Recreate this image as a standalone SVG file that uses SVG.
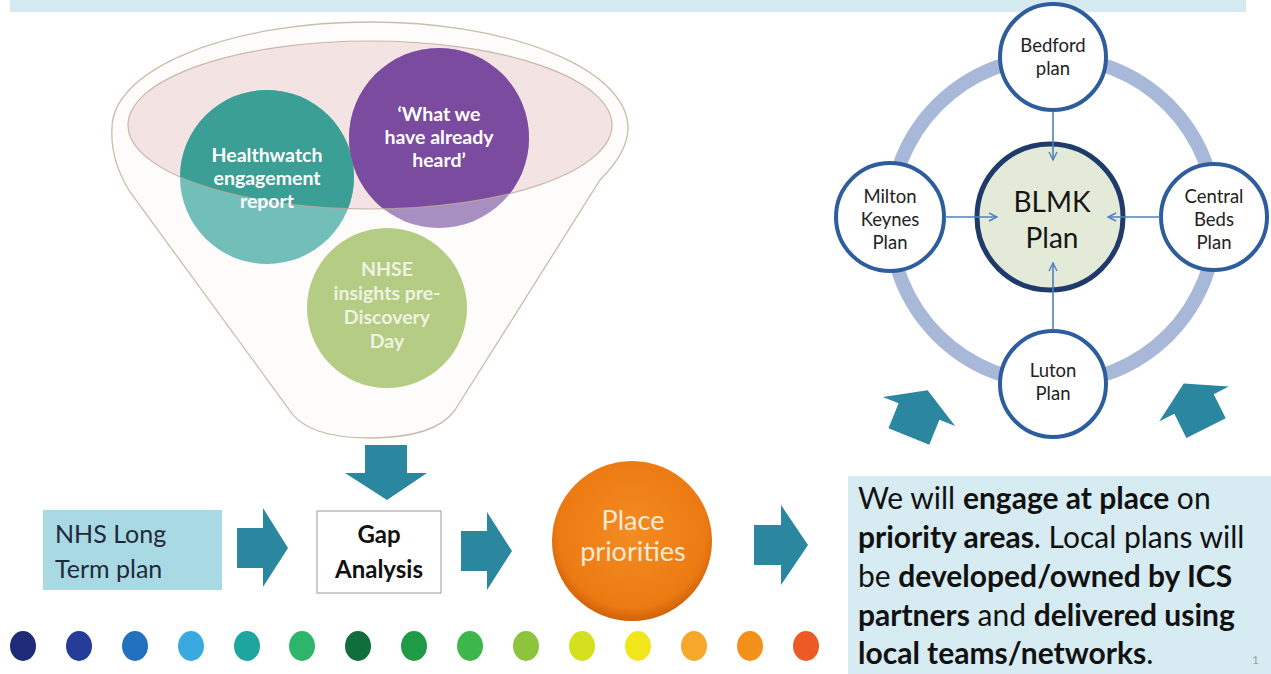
<svg xmlns="http://www.w3.org/2000/svg" width="1271" height="674" viewBox="0 0 1271 674">
<defs>
<style>
.t{font-family:Lato,"Open Sans","Liberation Sans",sans-serif}
.cw{fill:#ffffff;font-weight:bold;font-size:19.5px;text-anchor:middle}
.cg{fill:#eef3e2;font-weight:bold;font-size:19.5px;text-anchor:middle}
.sm{fill:#222;font-size:18.5px;text-anchor:middle}
.big{fill:#111;font-size:30px}
.b{font-weight:bold}
.arr{fill:#2b86a0}
.plan{fill:#ffffff;stroke:#2d5d9d;stroke-width:4}
.conn{stroke:#4f7fbf;stroke-width:1.6;fill:none}
</style>
<marker id="vh" viewBox="0 0 10 10" refX="9" refY="5" markerWidth="10" markerHeight="10" markerUnits="userSpaceOnUse" orient="auto">
<path d="M1,1 L9,5 L1,9" fill="none" stroke="#4f7fbf" stroke-width="1.4"/>
</marker>
<clipPath id="ellClip"><ellipse cx="370" cy="125" rx="242" ry="84"/></clipPath>
<radialGradient id="og" cx="50%" cy="45%" r="55%">
<stop offset="0" stop-color="#f38c22"/>
<stop offset="0.85" stop-color="#ec7a12"/>
<stop offset="1" stop-color="#cf620a"/>
</radialGradient>
</defs>
<rect width="1271" height="674" fill="#ffffff"/>
<rect x="10" y="0" width="1236" height="12" fill="#d4eaf0"/>

<g id="funnel">
<path d="M112,128 A258 106 0 0 1 628,128 Q628,152 600,180 L455,410 Q435,438 370,438 Q305,438 288,408 L130,192 Q110,160 112,128 Z" fill="#fdfcfa" stroke="#c7bdab" stroke-width="1.3"/>
<ellipse cx="370" cy="125" rx="242" ry="84" fill="#f3e4e3"/>
</g>

<g id="healthwatch">
<circle cx="267" cy="177" r="87" fill="#72bfba"/>
<circle cx="267" cy="177" r="87" fill="#3b9f95" clip-path="url(#ellClip)"/>
</g>
<g id="already-heard">
<circle cx="439" cy="138" r="90" fill="#a78fc2"/>
<circle cx="439" cy="138" r="90" fill="#7a4b9f" clip-path="url(#ellClip)"/>
</g>
<g id="nhse-insights">
<circle cx="387" cy="308" r="80" fill="#b5cc84"/>
</g>
<ellipse cx="370" cy="125" rx="242" ry="84" fill="none" stroke="#bba999" stroke-width="1.2" opacity="0.8"/>
<g class="t">
<text class="cw" x="267" y="162">Healthwatch</text>
<text class="cw" x="267" y="185">engagement</text>
<text class="cw" x="267" y="208">report</text>
<text class="cw" x="439" y="121">‘What we</text>
<text class="cw" x="439" y="144">have already</text>
<text class="cw" x="439" y="167">heard’</text>
<text class="cg" x="387" y="276">NHSE</text>
<text class="cg" x="387" y="300">insights pre-</text>
<text class="cg" x="387" y="324">Discovery</text>
<text class="cg" x="387" y="348">Day</text>
</g>

<g id="nhs-long-term-plan">
<rect x="43" y="510" width="179" height="80" fill="#a9d9e2"/>
<text class="t" x="55" y="543" font-size="25" fill="#1e2a3c">NHS Long</text>
<text class="t" x="55" y="578" font-size="25" fill="#1e2a3c">Term plan</text>
</g>
<g id="gap-analysis">
<rect x="317" y="511" width="124" height="82" fill="#ffffff" stroke="#9a9a9a" stroke-width="1"/>
<text class="t b" x="379" y="543" font-size="24" fill="#111" text-anchor="middle">Gap</text>
<text class="t b" x="379" y="578" font-size="24" fill="#111" text-anchor="middle">Analysis</text>
</g>
<g id="place-priorities">
<circle cx="632" cy="541" r="80" fill="url(#og)"/>
<text class="t" x="633" y="530" font-size="27" fill="#fbe9d3" text-anchor="middle">Place</text>
<text class="t" x="633" y="561" font-size="27" fill="#fbe9d3" text-anchor="middle">priorities</text>
</g>

<g id="engage-text">
<rect x="848" y="476" width="423" height="198" fill="#d6ecf2"/>
<text class="t big" x="858" y="509">We will <tspan class="b">engage at place</tspan> on</text>
<text class="t big" x="858" y="548"><tspan class="b">priority areas</tspan>. Local plans will</text>
<text class="t big" x="858" y="587">be <tspan class="b">developed/owned by ICS</tspan></text>
<text class="t big" x="858" y="626"><tspan class="b">partners</tspan> and <tspan class="b">delivered using</tspan></text>
<text class="t big" x="858" y="664"><tspan class="b">local teams/networks</tspan>.</text>
<text class="t" x="1252" y="664" font-size="12" fill="#a0a0a0">1</text>
</g>

<g id="dots">
<ellipse cx="23" cy="646" rx="13" ry="15" fill="#1f2a78"/>
<ellipse cx="79" cy="646" rx="13" ry="15" fill="#253c98"/>
<ellipse cx="135" cy="646" rx="13" ry="15" fill="#2072c0"/>
<ellipse cx="191" cy="646" rx="13" ry="15" fill="#3aa9e0"/>
<ellipse cx="247" cy="646" rx="13" ry="15" fill="#1ca69f"/>
<ellipse cx="302" cy="646" rx="13" ry="15" fill="#2fb46c"/>
<ellipse cx="358" cy="646" rx="13" ry="15" fill="#0f6e3b"/>
<ellipse cx="414" cy="646" rx="13" ry="15" fill="#1f9a46"/>
<ellipse cx="470" cy="646" rx="13" ry="15" fill="#3db64b"/>
<ellipse cx="526" cy="646" rx="13" ry="15" fill="#8cc43d"/>
<ellipse cx="582" cy="646" rx="13" ry="15" fill="#d3df1f"/>
<ellipse cx="638" cy="646" rx="13" ry="15" fill="#f1e61b"/>
<ellipse cx="694" cy="646" rx="13" ry="15" fill="#f5a82b"/>
<ellipse cx="750" cy="646" rx="13" ry="15" fill="#f3901a"/>
<ellipse cx="806" cy="646" rx="13" ry="15" fill="#ee5a25"/>
</g>

<g id="ring">
<circle cx="1053" cy="220" r="163" fill="none" stroke="#a8b8d8" stroke-width="14"/>
</g>
<g id="blmk">
<circle cx="1050" cy="217" r="73" fill="#e3ead7" stroke="#1f3b6b" stroke-width="5"/>
<text class="t" x="1052" y="212" font-size="28" fill="#151515" text-anchor="middle">BLMK</text>
<text class="t" x="1052" y="248" font-size="28" fill="#151515" text-anchor="middle">Plan</text>
</g>
<g id="bedford">
<circle class="plan" cx="1053" cy="57" r="53"/>
<text class="t sm" x="1053" y="52">Bedford</text>
<text class="t sm" x="1053" y="75">plan</text>
</g>
<g id="milton-keynes">
<circle class="plan" cx="890" cy="217" r="54"/>
<text class="t sm" x="890" y="203">Milton</text>
<text class="t sm" x="890" y="226">Keynes</text>
<text class="t sm" x="890" y="249">Plan</text>
</g>
<g id="central-beds">
<circle class="plan" cx="1214" cy="217" r="53"/>
<text class="t sm" x="1214" y="203">Central</text>
<text class="t sm" x="1214" y="226">Beds</text>
<text class="t sm" x="1214" y="249">Plan</text>
</g>
<g id="luton">
<circle class="plan" cx="1053" cy="384" r="53"/>
<text class="t sm" x="1053" y="377">Luton</text>
<text class="t sm" x="1053" y="400">Plan</text>
</g>

<g id="connectors">
<line class="conn" x1="1053" y1="111" x2="1053" y2="160" marker-end="url(#vh)"/>
<line class="conn" x1="945" y1="217" x2="997" y2="217" marker-end="url(#vh)"/>
<line class="conn" x1="1160" y1="217" x2="1108" y2="217" marker-end="url(#vh)"/>
<line class="conn" x1="1053" y1="330" x2="1053" y2="263" marker-end="url(#vh)"/>
<path class="arr" d="M365,445 L407,445 L407,473 L427,473 L387,500 L345,473 L365,473 Z"/>
<path class="arr" d="M237,528 L263,528 L263,508 L288,548 L263,587 L263,568 L237,568 Z"/>
<path class="arr" d="M461,531 L487,531 L487,512 L512,551 L487,590 L487,571 L461,571 Z"/>
<path class="arr" d="M754,525 L781,525 L781,505 L808,545 L781,585 L781,565 L754,565 Z"/>
<path class="arr" d="M-39,0 L0,-23 L39,0 L22,0 L22,27 L-22,27 L-22,0 Z" transform="translate(919,411.5) rotate(22)"/>
<path class="arr" d="M-39,0 L0,-23 L39,0 L22,0 L22,27 L-22,27 L-22,0 Z" transform="translate(1194,404) rotate(-26.6)"/>
</g>
</svg>
